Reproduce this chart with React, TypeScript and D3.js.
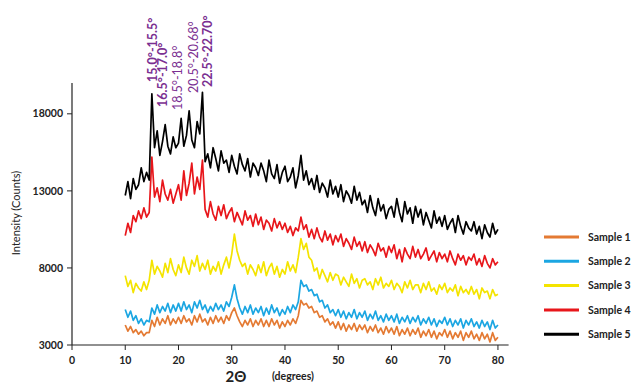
import React from "react";
import * as d3 from "d3";

const WIDTH = 634;
const HEIGHT = 385;

// 2θ sampling grid: 10° to 80° every 0.5°
const START = 10;
const STEP = 0.5;

const sample1 = [
  4300, 3900, 4200, 3800, 4000, 3700, 3900, 3600, 3800, 3800,
  4600, 4200, 4800, 4300, 4700, 4400, 4900, 4300, 4700, 4400,
  4800, 4400, 4900, 4500, 4700, 4300, 4900, 4500, 5000, 4500,
  4700, 4300, 4800, 4400, 4900, 4500, 4800, 4400, 4900, 4600,
  5100, 5400, 4900, 4500, 4200, 4600, 4300, 4700, 4200, 4600,
  4300, 4700, 4200, 4600, 4200, 4700, 4300, 4600, 4100, 4500,
  4200, 4600, 4300, 4700, 4400, 4900, 5900, 5600, 5700, 5400,
  5500, 5100, 5200, 4800, 4900, 4500, 4700, 4300, 4500, 4100,
  4500, 4000, 4400, 3900, 4300, 4000, 4400, 3900, 4300, 4000,
  4300, 3800, 4200, 3900, 4300, 3800, 4100, 3700, 4200, 3800,
  4100, 3700, 4200, 3600, 4000, 3700, 4100, 3600, 4000, 3700,
  4100, 3500, 3900, 3600, 4000, 3500, 3900, 3400, 3800, 3600,
  4000, 3500, 3900, 3400, 3800, 3500, 3900, 3300, 3800, 3500,
  3900, 3400, 3700, 3300, 3800, 3400, 3700, 3200, 3800, 3300,
  3500,
];

const sample2 = [
  5300, 4800, 5200, 4600, 4900, 4400, 4700, 4300, 4600, 4500,
  5400, 5000, 5600, 5100, 5500, 5200, 5700, 5100, 5600, 5200,
  5700, 5200, 5800, 5300, 5600, 5100, 5800, 5400, 5900, 5300,
  5600, 5100, 5500, 5200, 5700, 5300, 5600, 5200, 5800, 5500,
  6100, 6900, 6000, 5400, 5000, 5500, 5100, 5600, 5000, 5400,
  5100, 5500, 4900, 5400, 5000, 5600, 5100, 5400, 4900, 5300,
  5000, 5500, 5100, 5600, 5300, 5800, 7200, 6800, 6900, 6500,
  6600, 6200, 6300, 5800, 5900, 5400, 5600, 5100, 5300, 4900,
  5300, 4800, 5200, 4700, 5100, 4800, 5300, 4700, 5100, 4800,
  5200, 4600, 5000, 4700, 5200, 4600, 4900, 4500, 5000, 4600,
  4900, 4500, 5000, 4400, 4800, 4500, 4900, 4400, 4800, 4500,
  4900, 4300, 4700, 4400, 4800, 4300, 4700, 4200, 4600, 4400,
  4800, 4300, 4700, 4200, 4600, 4300, 4700, 4100, 4600, 4300,
  4700, 4200, 4500, 4100, 4600, 4200, 4500, 4000, 4600, 4100,
  4300,
];

const sample3 = [
  7500, 6800, 7200, 6400, 7000, 6700, 6500, 7100, 6600, 7200,
  8500, 7600, 8100, 7800, 7400, 8300, 7700, 8600, 7900, 7500,
  8200, 7700, 8700, 8000, 7600, 8500, 8100, 8800, 7800, 8300,
  7900, 8500, 7600, 8100, 7800, 8400, 7600, 8200, 8700, 8000,
  8900, 10200, 9100, 8500, 8100, 8300, 7600, 8200, 7900, 7500,
  8200, 7700, 8400, 7500, 8000, 8300, 7600, 8100, 7400, 7900,
  7600, 8400, 7800, 8200, 7700, 8700, 9900, 9200, 9600, 8700,
  8500, 7800, 8000, 7300, 7900, 7500, 7100, 7700, 7200, 7600,
  7500, 6900, 7400, 7100, 6800, 7600, 7000, 7300, 6700, 7200,
  7300, 6900, 7100, 6600, 7300, 6900, 7400, 6700, 7000, 6800,
  7200, 6600, 7000, 6800, 6400, 7100, 6700, 7200, 6600, 6900,
  6900, 6400, 7000, 6600, 7100, 6500, 6700, 6300, 6900, 6600,
  7000, 6400, 6700, 6500, 6900, 6200, 6800, 6400, 6600, 6300,
  6800, 6300, 6600, 6000, 6700, 6400, 6500, 6000, 6600, 6200,
  6300,
];

const sample4 = [
  10100, 10900, 10300, 11400, 11000, 11700, 11200, 11900, 11300, 11600,
  15200, 12600, 13200, 12300, 13700, 12800, 12400, 13100, 12200, 12800,
  13400, 12400, 14300, 12700, 13500, 14800, 12800, 13900, 13100, 15000,
  11800, 11300, 12300, 11500, 11100, 12000, 11400, 12100, 11200, 11600,
  11900, 11000, 11600, 11200, 10800, 11700, 11100, 11400, 10700, 11500,
  10800, 11300, 10500, 11100, 10900, 10400, 11200, 10600, 11000, 10500,
  10900, 10300, 10700, 10100, 10600, 10400, 11300, 10500, 10800, 10000,
  10500, 9900, 10600, 10000, 9700, 10400, 9800, 10200, 9500, 10100,
  9700, 10200, 9400, 9900, 9600, 9200, 10000, 9400, 9700, 9100,
  9700, 9000, 9500, 9200, 8800, 9600, 9100, 9300, 8700, 9400,
  9000, 9500, 8600, 9200, 8400, 9300, 8900, 8600, 9400, 8700,
  9200, 8600, 8900, 9300, 8500, 8800, 9100, 8400, 9000, 8600,
  8900, 8400, 9100, 8600, 8200, 8900, 8500, 8800, 8200, 8700,
  8500, 8900, 8200, 8600, 8100, 8800, 8300, 8000, 8600, 8200,
  8400,
];

const sample5 = [
  12700, 13600, 12500, 13800, 13100, 13400, 14500, 13600, 14200, 13700,
  19300, 15800, 16900, 15300, 16200, 17300, 15900, 15400, 16500, 15800,
  16100, 17700, 15900, 16600, 18200, 16300, 15800, 17500, 16700, 19400,
  14900, 15400, 14500, 15800, 15100, 14300, 15600, 14800, 15000, 14200,
  15300, 14600, 14100, 15400, 14700, 14300, 15100, 13900, 14800, 14500,
  14000, 14800, 14300, 13600, 15000, 14100, 13800, 14700, 13500, 14200,
  14600, 13600, 13900, 14500, 13200, 14000, 15300, 13700, 14300, 13400,
  13800, 13100, 14000, 12900, 13500, 13200, 12600, 13700, 12800, 13300,
  12600, 13400, 12300, 13000, 12700, 12200, 13300, 12400, 12900, 12100,
  12400, 11600, 12700, 11900, 11400, 12500, 11700, 12100, 11200, 11800,
  12000, 11300, 12500, 11600, 11000, 12300, 11500, 11900, 10900, 12000,
  11300, 11800, 10800, 11600, 11100, 10600, 11700, 10900, 11300, 10700,
  11400, 10500, 10900, 11200, 10300, 11400, 10700, 10200, 11000, 10600,
  10400, 11000, 10200, 10700, 9900, 10800, 10300, 10000, 10900, 10200,
  10500,
];

const seriesNames = ["Sample 1", "Sample 2", "Sample 3", "Sample 4", "Sample 5"];
const seriesValues = [sample1, sample2, sample3, sample4, sample5];
const seriesColors = ["#e47a33", "#1ba6e2", "#f4e400", "#e8161b", "#000000"];

const xTicks = [0, 10, 20, 30, 40, 50, 60, 70, 80];
const yTicks = [3000, 8000, 13000, 18000];

// peak annotations: text, baseline x in px, bottom y in px, bold
const peakLabels = [
  { text: "15.0°-15.5°", x: 157, y: 82, bold: true },
  { text: "16.5°-17.0°", x: 167, y: 107, bold: true },
  { text: "18.5°-18.8°", x: 182, y: 110, bold: false },
  { text: "20.5°-20.68°", x: 198, y: 93, bold: false },
  { text: "22.5°-22.70°", x: 212, y: 87, bold: true },
];

const FONT = "Lato, 'Open Sans', sans-serif";

const App = () => {
  const x = d3.scaleLinear().domain([0, 82]).range([72, 508.6]);
  const y = d3.scaleLinear().domain([3000, 20000]).range([345, 83]);

  const line = d3
    .line<number>()
    .x((_, i) => x(START + i * STEP))
    .y((d) => y(d));

  return (
    <svg
      width={WIDTH}
      height={HEIGHT}
      style={{ position: "absolute", left: 0, top: 0, background: "#fff" }}
    >
      {/* data lines */}
      {seriesValues.map((vals, i) => (
        <path
          key={seriesNames[i]}
          d={line(vals) || ""}
          fill="none"
          stroke={seriesColors[i]}
          strokeWidth={1.7}
          strokeLinejoin="round"
        />
      ))}

      {/* axes */}
      <line x1={x(0)} x2={x(0)} y1={y(20000)} y2={y(3000)} stroke="#222" strokeWidth={1.2} />
      <line x1={x(0)} x2={x(82)} y1={y(3000)} y2={y(3000)} stroke="#222" strokeWidth={1.2} />
      {yTicks.map((t) => (
        <g key={t}>
          <line x1={x(0) - 5} x2={x(0)} y1={y(t)} y2={y(t)} stroke="#222" />
          <text
            x={x(0) - 9}
            y={y(t)}
            dy="0.35em"
            textAnchor="end"
            fontFamily={FONT}
            fontWeight="bold"
            fontSize={10.5}
            fill="#222"
          >
            {t}
          </text>
        </g>
      ))}
      {xTicks.map((t) => (
        <g key={t}>
          <line x1={x(t)} x2={x(t)} y1={y(3000)} y2={y(3000) + 5} stroke="#222" />
          <text
            x={x(t)}
            y={360}
            dy="0.35em"
            textAnchor="middle"
            fontFamily={FONT}
            fontWeight="bold"
            fontSize={10.5}
            fill="#222"
          >
            {t}
          </text>
        </g>
      ))}

      {/* axis titles */}
      <text
        transform="translate(20,213) rotate(-90)"
        textAnchor="middle"
        fontFamily={FONT}
        fontSize={11}
        fill="#222"
      >
        Intensity (Counts)
      </text>
      <text x={236} y={381.5} textAnchor="middle" fontFamily={FONT} fontWeight="bold" fontSize={15} fill="#222">
        2Θ
      </text>
      <text x={293} y={380} textAnchor="middle" fontFamily={FONT} fontWeight="bold" fontSize={10.5} fill="#222">
        (degrees)
      </text>

      {/* peak labels */}
      {peakLabels.map((p) => (
        <text
          key={p.text}
          transform={`translate(${p.x},${p.y}) rotate(-90)`}
          fontFamily={FONT}
          fontWeight={p.bold ? "bold" : "normal"}
          fontSize={12.5}
          fill="#7b2f91"
        >
          {p.text}
        </text>
      ))}

      {/* legend */}
      {seriesNames.map((name, i) => (
        <g key={name} transform={`translate(0,${237 + i * 24.3})`}>
          <line x1={544} x2={579} y1={0} y2={0} stroke={seriesColors[i]} strokeWidth={3} />
          <text x={588} y={0} dy="0.35em" fontFamily={FONT} fontWeight="bold" fontSize={10.5} fill="#222">
            {name}
          </text>
        </g>
      ))}
    </svg>
  );
};

export default App;
